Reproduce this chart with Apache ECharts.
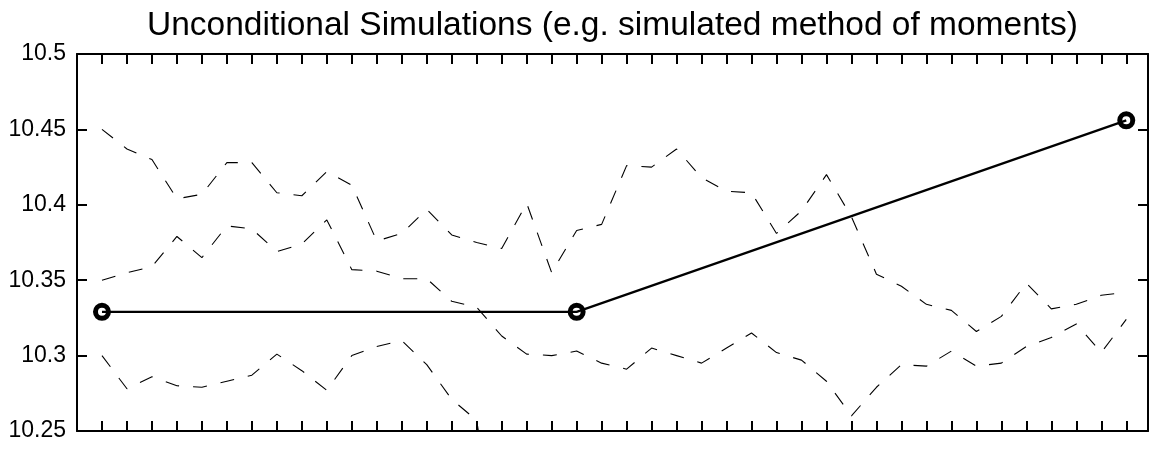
<!DOCTYPE html>
<html>
<head>
<meta charset="utf-8">
<script src="https://cdn.jsdelivr.net/npm/echarts@6/dist/echarts.min.js"></script>
<style>
  html, body { margin: 0; padding: 0; background: #fff; }
  #chart { width: 1151px; height: 449px; }
</style>
</head>
<body>
<div id="chart"></div>
<script>
// Time steps 1..42 along the horizontal axis
const steps = Array.from({ length: 42 }, (_, i) => i + 1);

// Simulated paths (dashed)
const simA = [10.450, 10.437, 10.430, 10.404, 10.407, 10.428, 10.428, 10.408, 10.406, 10.422,
              10.413, 10.376, 10.381, 10.397, 10.380, 10.375, 10.371, 10.401, 10.355, 10.383,
              10.387, 10.426, 10.425, 10.437, 10.418, 10.409, 10.408, 10.381, 10.396, 10.420,
              10.392, 10.354, 10.346, 10.334, 10.330, 10.316, 10.326, 10.348, 10.331, 10.334,
              10.340, 10.342];
const simB = [10.350, 10.355, 10.359, 10.379, 10.365, 10.386, 10.384, 10.369, 10.374, 10.390,
              10.357, 10.356, 10.351, 10.351, 10.336, 10.332, 10.313, 10.301, 10.300, 10.303,
              10.295, 10.291, 10.305, 10.300, 10.295, 10.305, 10.315, 10.302, 10.297, 10.283,
              10.260, 10.279, 10.294, 10.293, 10.303, 10.293, 10.295, 10.306, 10.312, 10.321,
              10.302, 10.324];
// third path leaves the visible range after step 16
const simC = [10.300, 10.278, 10.286, 10.280, 10.279, 10.283, 10.287, 10.301, 10.290, 10.277,
              10.300, 10.306, 10.310, 10.294, 10.271, 10.257, 10.150];

// Observed points (solid line with circle markers)
const obsSteps = [1, 20, 42];
const obsValues = [10.329, 10.329, 10.456];

// Y tick labels
const yTickLabels = ['10.25', '10.3', '10.35', '10.4', '10.45', '10.5'];

const FONT = '"Liberation Sans", Arial, Helvetica, sans-serif';

function pairs(xs, ys) {
  return ys.map((v, i) => [xs[i], v]);
}

const chart = echarts.init(document.getElementById('chart'), null, { renderer: 'canvas' });

const axisLine = { show: true, onZero: false, lineStyle: { color: '#000', width: 2 } };
const tickStyle = { show: true, inside: true, length: 10, lineStyle: { color: '#000', width: 2 } };

const dashed = { color: '#000', width: 1.1, type: [14, 14] };

chart.setOption({
  animation: false,
  backgroundColor: '#fff',
  title: {
    text: 'Unconditional Simulations (e.g. simulated method of moments)',
    left: 142,
    top: 4,
    textStyle: { fontFamily: FONT, fontSize: 33.5, fontWeight: 'normal', color: '#000' }
  },
  grid: { left: 77, top: 54, width: 1071, height: 377, containLabel: false },
  xAxis: [
    {
      type: 'value', position: 'bottom', min: 0, max: 42.87, interval: 1,
      axisLine: axisLine, axisTick: tickStyle, axisLabel: { show: false },
      splitLine: { show: false }
    },
    {
      type: 'value', position: 'top', min: 0, max: 42.87, interval: 1,
      axisLine: axisLine, axisTick: tickStyle, axisLabel: { show: false },
      splitLine: { show: false }
    }
  ],
  yAxis: [
    {
      type: 'value', position: 'left', min: 10.25, max: 10.5, interval: 0.05,
      axisLine: axisLine, axisTick: tickStyle, splitLine: { show: false },
      axisLabel: {
        show: true, margin: 11, color: '#000', fontFamily: FONT, fontSize: 23,
        formatter: v => yTickLabels[Math.round((v - 10.25) / 0.05)]
      }
    },
    {
      type: 'value', position: 'right', min: 10.25, max: 10.5, interval: 0.05,
      axisLine: axisLine, axisTick: tickStyle, splitLine: { show: false },
      axisLabel: { show: false }
    }
  ],
  series: [
    { type: 'line', data: pairs(steps, simA), showSymbol: false, symbol: 'none', lineStyle: dashed, clip: true },
    { type: 'line', data: pairs(steps, simB), showSymbol: false, symbol: 'none', lineStyle: dashed, clip: true },
    { type: 'line', data: pairs(steps, simC), showSymbol: false, symbol: 'none', lineStyle: dashed, clip: true },
    {
      type: 'line', data: pairs(obsSteps, obsValues), clip: true,
      lineStyle: { color: '#000', width: 2.2 },
      symbol: 'circle', symbolSize: 13, showSymbol: true,
      itemStyle: { color: 'rgba(0,0,0,0)', borderColor: '#000', borderWidth: 5 }
    }
  ]
});
</script>
</body>
</html>
